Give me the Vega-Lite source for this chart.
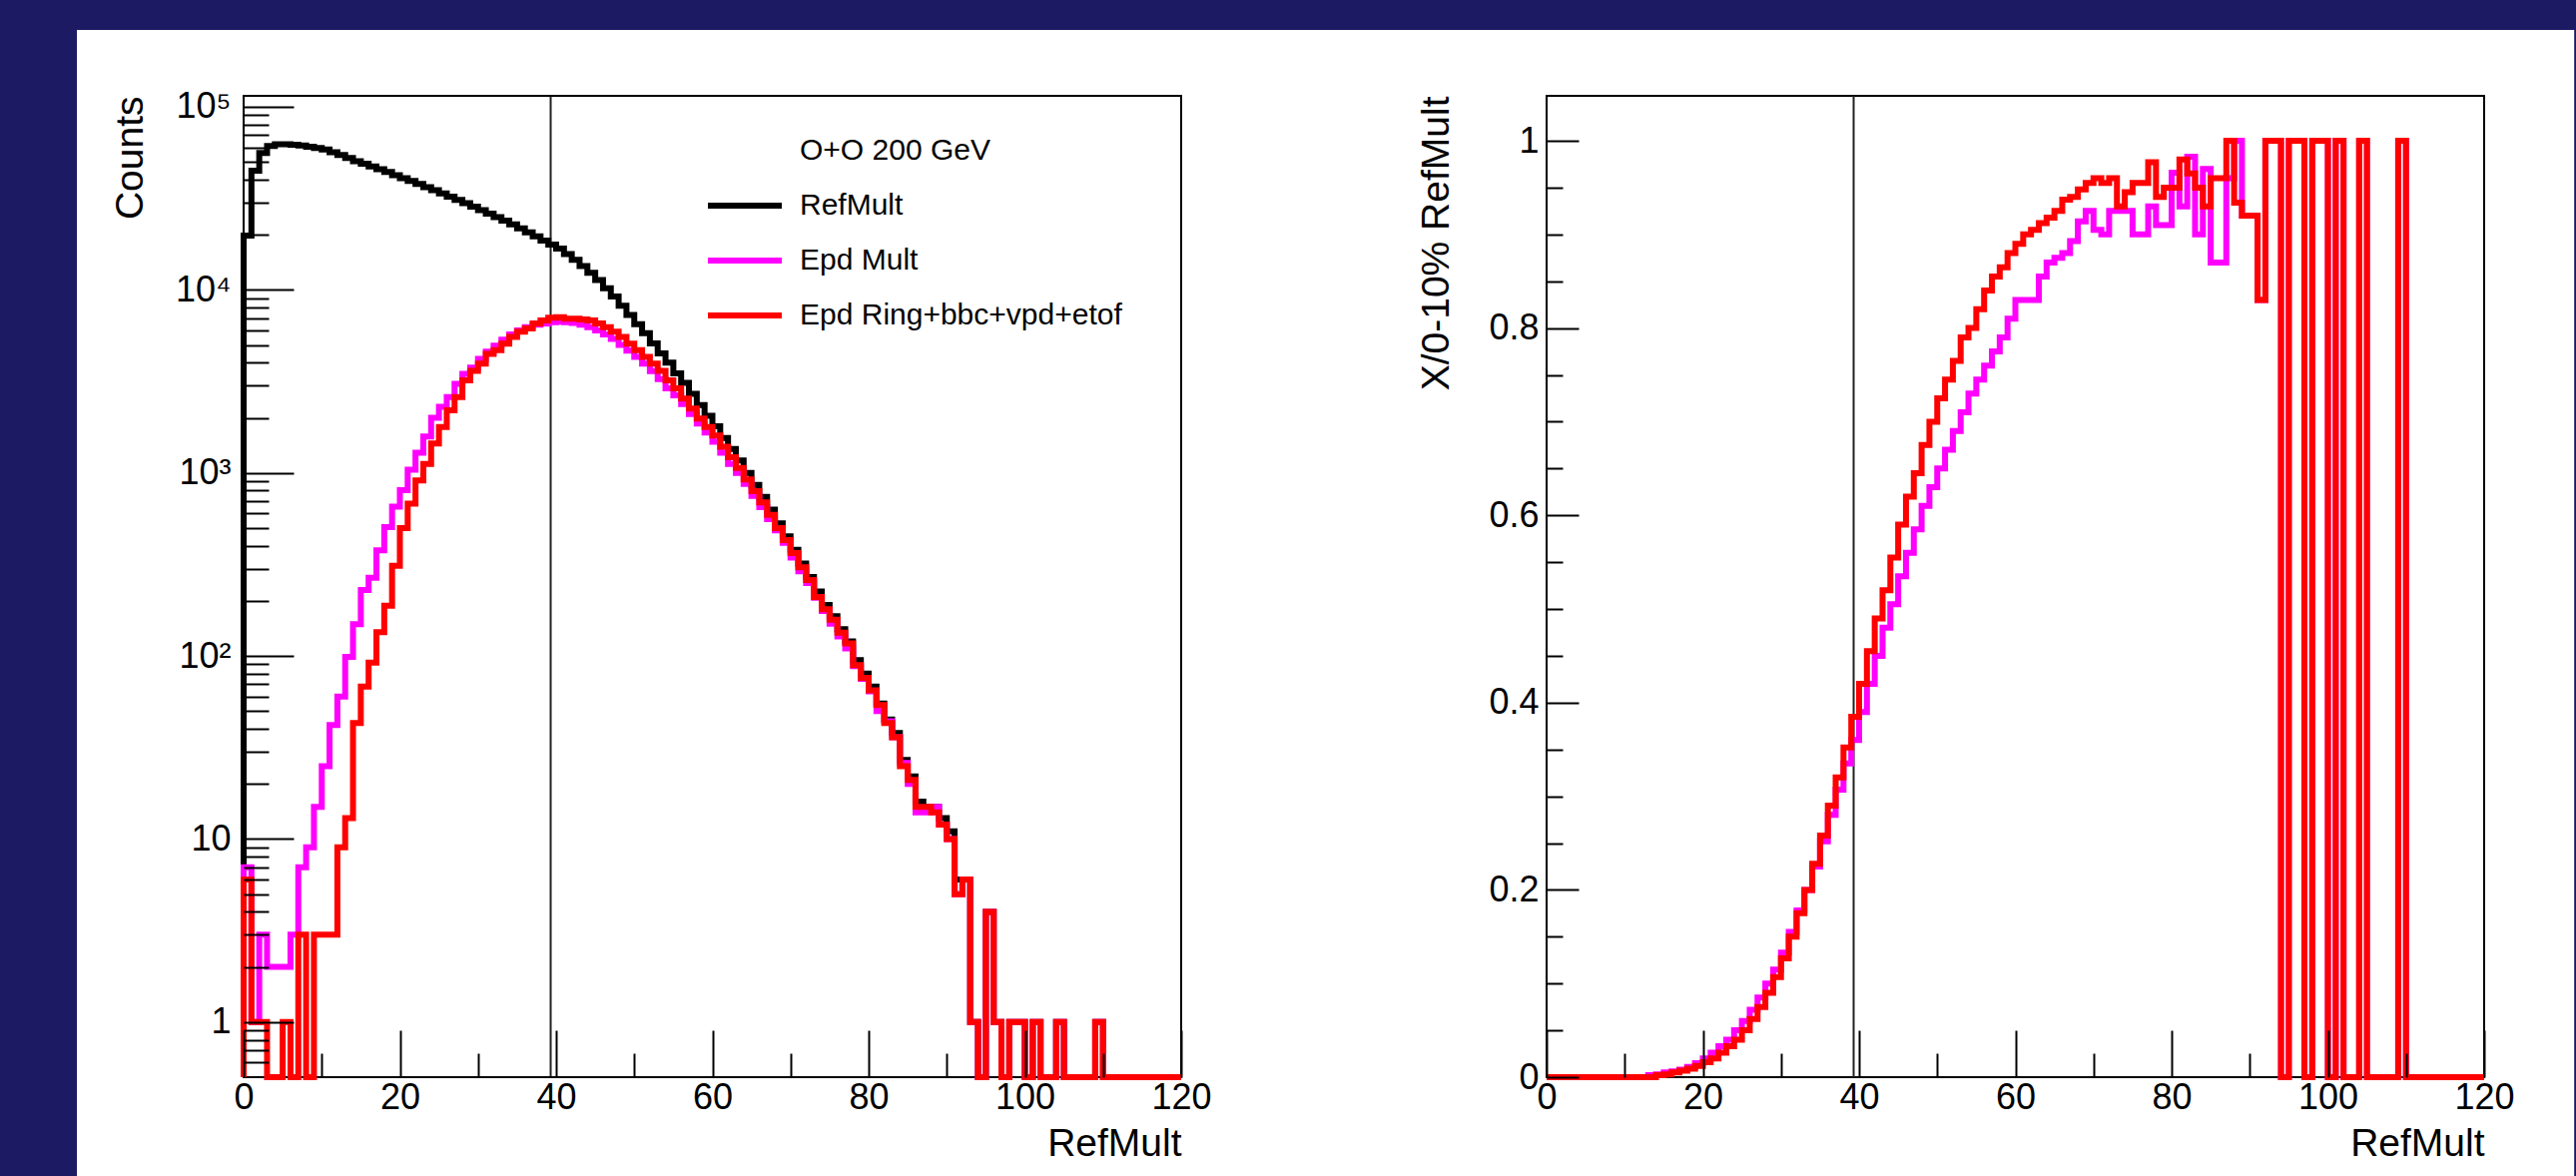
{
  "$schema": "https://vega.github.io/schema/vega-lite/v6.json",
  "background": "#1c1a63",
  "padding": {"left": 76, "top": 29, "right": 3, "bottom": 0},
  "autosize": {"type": "pad"},
  "config": {
    "font": "Liberation Sans",
    "view": {"stroke": "#000000", "strokeWidth": 2},
    "axis": {
      "labelFont": "Liberation Sans", "titleFont": "Liberation Sans",
      "labelFontSize": 36, "titleFontSize": 39, "titleFontWeight": "normal",
      "labelColor": "#000000", "titleColor": "#000000", "tickColor": "#000000",
      "tickWidth": 2, "domain": false, "grid": false,
      "labelOverlap": false, "labelFlush": false, "labelBound": false
    },
    "line": {"strokeWidth": 6, "strokeJoin": "miter", "strokeCap": "butt"},
    "legend": {
      "labelFont": "Liberation Sans", "titleFont": "Liberation Sans",
      "labelFontSize": 30, "titleFontSize": 30, "titleFontWeight": "normal",
      "labelColor": "#000000", "titleColor": "#000000"
    }
  },
  "datasets": {
    "counts": [
      {"bin":0,"RefMult":0,"Epd Mult":0,"Epd Ring+bbc+vpd+etof":0},
      {"bin":0,"RefMult":19800,"Epd Mult":7,"Epd Ring+bbc+vpd+etof":6},
      {"bin":1,"RefMult":44800,"Epd Mult":1,"Epd Ring+bbc+vpd+etof":1},
      {"bin":2,"RefMult":56000,"Epd Mult":3,"Epd Ring+bbc+vpd+etof":1},
      {"bin":3,"RefMult":61000,"Epd Mult":2,"Epd Ring+bbc+vpd+etof":0},
      {"bin":4,"RefMult":62500,"Epd Mult":2,"Epd Ring+bbc+vpd+etof":0},
      {"bin":5,"RefMult":62500,"Epd Mult":2,"Epd Ring+bbc+vpd+etof":1},
      {"bin":6,"RefMult":62000,"Epd Mult":3,"Epd Ring+bbc+vpd+etof":0},
      {"bin":7,"RefMult":61500,"Epd Mult":7,"Epd Ring+bbc+vpd+etof":3},
      {"bin":8,"RefMult":60500,"Epd Mult":9,"Epd Ring+bbc+vpd+etof":0},
      {"bin":9,"RefMult":59500,"Epd Mult":15,"Epd Ring+bbc+vpd+etof":3},
      {"bin":10,"RefMult":58500,"Epd Mult":25,"Epd Ring+bbc+vpd+etof":3},
      {"bin":11,"RefMult":56500,"Epd Mult":42,"Epd Ring+bbc+vpd+etof":3},
      {"bin":12,"RefMult":54500,"Epd Mult":60,"Epd Ring+bbc+vpd+etof":9},
      {"bin":13,"RefMult":52500,"Epd Mult":99,"Epd Ring+bbc+vpd+etof":13},
      {"bin":14,"RefMult":50500,"Epd Mult":149,"Epd Ring+bbc+vpd+etof":43},
      {"bin":15,"RefMult":48800,"Epd Mult":229,"Epd Ring+bbc+vpd+etof":68},
      {"bin":16,"RefMult":47200,"Epd Mult":267,"Epd Ring+bbc+vpd+etof":92},
      {"bin":17,"RefMult":45600,"Epd Mult":378,"Epd Ring+bbc+vpd+etof":135},
      {"bin":18,"RefMult":44000,"Epd Mult":506,"Epd Ring+bbc+vpd+etof":188},
      {"bin":19,"RefMult":42300,"Epd Mult":655,"Epd Ring+bbc+vpd+etof":311},
      {"bin":20,"RefMult":40800,"Epd Mult":804,"Epd Ring+bbc+vpd+etof":500},
      {"bin":21,"RefMult":39300,"Epd Mult":1040,"Epd Ring+bbc+vpd+etof":680},
      {"bin":22,"RefMult":37900,"Epd Mult":1290,"Epd Ring+bbc+vpd+etof":910},
      {"bin":23,"RefMult":36400,"Epd Mult":1580,"Epd Ring+bbc+vpd+etof":1120},
      {"bin":24,"RefMult":35000,"Epd Mult":2000,"Epd Ring+bbc+vpd+etof":1450},
      {"bin":25,"RefMult":33600,"Epd Mult":2300,"Epd Ring+bbc+vpd+etof":1780},
      {"bin":26,"RefMult":32300,"Epd Mult":2600,"Epd Ring+bbc+vpd+etof":2200},
      {"bin":27,"RefMult":31000,"Epd Mult":3070,"Epd Ring+bbc+vpd+etof":2600},
      {"bin":28,"RefMult":29800,"Epd Mult":3480,"Epd Ring+bbc+vpd+etof":3200},
      {"bin":29,"RefMult":28500,"Epd Mult":3760,"Epd Ring+bbc+vpd+etof":3610},
      {"bin":30,"RefMult":27300,"Epd Mult":4200,"Epd Ring+bbc+vpd+etof":3950},
      {"bin":31,"RefMult":26100,"Epd Mult":4600,"Epd Ring+bbc+vpd+etof":4470},
      {"bin":32,"RefMult":25000,"Epd Mult":4950,"Epd Ring+bbc+vpd+etof":4680},
      {"bin":33,"RefMult":23900,"Epd Mult":5350,"Epd Ring+bbc+vpd+etof":5090},
      {"bin":34,"RefMult":22800,"Epd Mult":5700,"Epd Ring+bbc+vpd+etof":5530},
      {"bin":35,"RefMult":21700,"Epd Mult":6000,"Epd Ring+bbc+vpd+etof":5900},
      {"bin":36,"RefMult":20600,"Epd Mult":6250,"Epd Ring+bbc+vpd+etof":6150},
      {"bin":37,"RefMult":19600,"Epd Mult":6450,"Epd Ring+bbc+vpd+etof":6550},
      {"bin":38,"RefMult":18600,"Epd Mult":6550,"Epd Ring+bbc+vpd+etof":6810},
      {"bin":39,"RefMult":17700,"Epd Mult":6650,"Epd Ring+bbc+vpd+etof":7050},
      {"bin":40,"RefMult":16800,"Epd Mult":6700,"Epd Ring+bbc+vpd+etof":7100},
      {"bin":41,"RefMult":15700,"Epd Mult":6650,"Epd Ring+bbc+vpd+etof":6950},
      {"bin":42,"RefMult":14600,"Epd Mult":6600,"Epd Ring+bbc+vpd+etof":6950},
      {"bin":43,"RefMult":13500,"Epd Mult":6450,"Epd Ring+bbc+vpd+etof":6900},
      {"bin":44,"RefMult":12400,"Epd Mult":6250,"Epd Ring+bbc+vpd+etof":6800},
      {"bin":45,"RefMult":11300,"Epd Mult":6000,"Epd Ring+bbc+vpd+etof":6550},
      {"bin":46,"RefMult":10200,"Epd Mult":5700,"Epd Ring+bbc+vpd+etof":6260},
      {"bin":47,"RefMult":9200,"Epd Mult":5400,"Epd Ring+bbc+vpd+etof":5900},
      {"bin":48,"RefMult":8200,"Epd Mult":5000,"Epd Ring+bbc+vpd+etof":5530},
      {"bin":49,"RefMult":7300,"Epd Mult":4650,"Epd Ring+bbc+vpd+etof":5090},
      {"bin":50,"RefMult":6500,"Epd Mult":4300,"Epd Ring+bbc+vpd+etof":4680},
      {"bin":51,"RefMult":5800,"Epd Mult":3950,"Epd Ring+bbc+vpd+etof":4300},
      {"bin":52,"RefMult":5100,"Epd Mult":3600,"Epd Ring+bbc+vpd+etof":3950},
      {"bin":53,"RefMult":4500,"Epd Mult":3250,"Epd Ring+bbc+vpd+etof":3610},
      {"bin":54,"RefMult":4000,"Epd Mult":2900,"Epd Ring+bbc+vpd+etof":3200},
      {"bin":55,"RefMult":3500,"Epd Mult":2650,"Epd Ring+bbc+vpd+etof":2900},
      {"bin":56,"RefMult":3100,"Epd Mult":2380,"Epd Ring+bbc+vpd+etof":2550},
      {"bin":57,"RefMult":2700,"Epd Mult":2100,"Epd Ring+bbc+vpd+etof":2250},
      {"bin":58,"RefMult":2350,"Epd Mult":1860,"Epd Ring+bbc+vpd+etof":1980},
      {"bin":59,"RefMult":2050,"Epd Mult":1660,"Epd Ring+bbc+vpd+etof":1780},
      {"bin":60,"RefMult":1800,"Epd Mult":1480,"Epd Ring+bbc+vpd+etof":1600},
      {"bin":61,"RefMult":1550,"Epd Mult":1290,"Epd Ring+bbc+vpd+etof":1390},
      {"bin":62,"RefMult":1350,"Epd Mult":1120,"Epd Ring+bbc+vpd+etof":1220},
      {"bin":63,"RefMult":1170,"Epd Mult":1000,"Epd Ring+bbc+vpd+etof":1065},
      {"bin":64,"RefMult":1000,"Epd Mult":870,"Epd Ring+bbc+vpd+etof":920},
      {"bin":65,"RefMult":860,"Epd Mult":750,"Epd Ring+bbc+vpd+etof":795},
      {"bin":66,"RefMult":740,"Epd Mult":650,"Epd Ring+bbc+vpd+etof":690},
      {"bin":67,"RefMult":630,"Epd Mult":560,"Epd Ring+bbc+vpd+etof":590},
      {"bin":68,"RefMult":530,"Epd Mult":485,"Epd Ring+bbc+vpd+etof":500},
      {"bin":69,"RefMult":450,"Epd Mult":415,"Epd Ring+bbc+vpd+etof":430},
      {"bin":70,"RefMult":380,"Epd Mult":345,"Epd Ring+bbc+vpd+etof":365},
      {"bin":71,"RefMult":320,"Epd Mult":290,"Epd Ring+bbc+vpd+etof":305},
      {"bin":72,"RefMult":270,"Epd Mult":250,"Epd Ring+bbc+vpd+etof":260},
      {"bin":73,"RefMult":225,"Epd Mult":208,"Epd Ring+bbc+vpd+etof":210},
      {"bin":74,"RefMult":190,"Epd Mult":176,"Epd Ring+bbc+vpd+etof":180},
      {"bin":75,"RefMult":165,"Epd Mult":150,"Epd Ring+bbc+vpd+etof":158},
      {"bin":76,"RefMult":140,"Epd Mult":128,"Epd Ring+bbc+vpd+etof":134},
      {"bin":77,"RefMult":120,"Epd Mult":110,"Epd Ring+bbc+vpd+etof":117},
      {"bin":78,"RefMult":95,"Epd Mult":88,"Epd Ring+bbc+vpd+etof":89},
      {"bin":79,"RefMult":80,"Epd Mult":75,"Epd Ring+bbc+vpd+etof":76},
      {"bin":80,"RefMult":68,"Epd Mult":64,"Epd Ring+bbc+vpd+etof":65},
      {"bin":81,"RefMult":55,"Epd Mult":50,"Epd Ring+bbc+vpd+etof":54},
      {"bin":82,"RefMult":45,"Epd Mult":44,"Epd Ring+bbc+vpd+etof":43},
      {"bin":83,"RefMult":38,"Epd Mult":36,"Epd Ring+bbc+vpd+etof":36},
      {"bin":84,"RefMult":27,"Epd Mult":26,"Epd Ring+bbc+vpd+etof":25},
      {"bin":85,"RefMult":22,"Epd Mult":20,"Epd Ring+bbc+vpd+etof":21},
      {"bin":86,"RefMult":16,"Epd Mult":14,"Epd Ring+bbc+vpd+etof":15},
      {"bin":87,"RefMult":15,"Epd Mult":14,"Epd Ring+bbc+vpd+etof":15},
      {"bin":88,"RefMult":15,"Epd Mult":15,"Epd Ring+bbc+vpd+etof":14},
      {"bin":89,"RefMult":13,"Epd Mult":12,"Epd Ring+bbc+vpd+etof":12},
      {"bin":90,"RefMult":11,"Epd Mult":10,"Epd Ring+bbc+vpd+etof":10},
      {"bin":91,"RefMult":6,"Epd Mult":5,"Epd Ring+bbc+vpd+etof":5},
      {"bin":92,"RefMult":6,"Epd Mult":6,"Epd Ring+bbc+vpd+etof":6},
      {"bin":93,"RefMult":1,"Epd Mult":1,"Epd Ring+bbc+vpd+etof":1},
      {"bin":94,"RefMult":0,"Epd Mult":0,"Epd Ring+bbc+vpd+etof":0},
      {"bin":95,"RefMult":4,"Epd Mult":4,"Epd Ring+bbc+vpd+etof":4},
      {"bin":96,"RefMult":1,"Epd Mult":1,"Epd Ring+bbc+vpd+etof":1},
      {"bin":97,"RefMult":0,"Epd Mult":0,"Epd Ring+bbc+vpd+etof":0},
      {"bin":98,"RefMult":1,"Epd Mult":1,"Epd Ring+bbc+vpd+etof":1},
      {"bin":99,"RefMult":1,"Epd Mult":1,"Epd Ring+bbc+vpd+etof":1},
      {"bin":100,"RefMult":0,"Epd Mult":0,"Epd Ring+bbc+vpd+etof":0},
      {"bin":101,"RefMult":1,"Epd Mult":1,"Epd Ring+bbc+vpd+etof":1},
      {"bin":102,"RefMult":0,"Epd Mult":0,"Epd Ring+bbc+vpd+etof":0},
      {"bin":103,"RefMult":0,"Epd Mult":0,"Epd Ring+bbc+vpd+etof":0},
      {"bin":104,"RefMult":1,"Epd Mult":1,"Epd Ring+bbc+vpd+etof":1},
      {"bin":105,"RefMult":0,"Epd Mult":0,"Epd Ring+bbc+vpd+etof":0},
      {"bin":106,"RefMult":0,"Epd Mult":0,"Epd Ring+bbc+vpd+etof":0},
      {"bin":107,"RefMult":0,"Epd Mult":0,"Epd Ring+bbc+vpd+etof":0},
      {"bin":108,"RefMult":0,"Epd Mult":0,"Epd Ring+bbc+vpd+etof":0},
      {"bin":109,"RefMult":1,"Epd Mult":1,"Epd Ring+bbc+vpd+etof":1},
      {"bin":110,"RefMult":0,"Epd Mult":0,"Epd Ring+bbc+vpd+etof":0},
      {"bin":111,"RefMult":0,"Epd Mult":0,"Epd Ring+bbc+vpd+etof":0},
      {"bin":112,"RefMult":0,"Epd Mult":0,"Epd Ring+bbc+vpd+etof":0},
      {"bin":113,"RefMult":0,"Epd Mult":0,"Epd Ring+bbc+vpd+etof":0},
      {"bin":114,"RefMult":0,"Epd Mult":0,"Epd Ring+bbc+vpd+etof":0},
      {"bin":115,"RefMult":0,"Epd Mult":0,"Epd Ring+bbc+vpd+etof":0},
      {"bin":116,"RefMult":0,"Epd Mult":0,"Epd Ring+bbc+vpd+etof":0},
      {"bin":117,"RefMult":0,"Epd Mult":0,"Epd Ring+bbc+vpd+etof":0},
      {"bin":118,"RefMult":0,"Epd Mult":0,"Epd Ring+bbc+vpd+etof":0},
      {"bin":119,"RefMult":0,"Epd Mult":0,"Epd Ring+bbc+vpd+etof":0},
      {"bin":120,"RefMult":0,"Epd Mult":0,"Epd Ring+bbc+vpd+etof":0}
    ],
    "ratio": [
      {"bin":0,"epd_mult":0,"epd_ring":0},
      {"bin":1,"epd_mult":0,"epd_ring":0},
      {"bin":2,"epd_mult":0,"epd_ring":0},
      {"bin":3,"epd_mult":0,"epd_ring":0},
      {"bin":4,"epd_mult":0,"epd_ring":0},
      {"bin":5,"epd_mult":0,"epd_ring":0},
      {"bin":6,"epd_mult":0,"epd_ring":0},
      {"bin":7,"epd_mult":0,"epd_ring":0},
      {"bin":8,"epd_mult":0,"epd_ring":0},
      {"bin":9,"epd_mult":0,"epd_ring":0},
      {"bin":10,"epd_mult":0,"epd_ring":0},
      {"bin":11,"epd_mult":0,"epd_ring":0},
      {"bin":12,"epd_mult":0,"epd_ring":0},
      {"bin":13,"epd_mult":0.002,"epd_ring":0},
      {"bin":14,"epd_mult":0.003,"epd_ring":0.002},
      {"bin":15,"epd_mult":0.005,"epd_ring":0.003},
      {"bin":16,"epd_mult":0.006,"epd_ring":0.005},
      {"bin":17,"epd_mult":0.008,"epd_ring":0.007},
      {"bin":18,"epd_mult":0.011,"epd_ring":0.009},
      {"bin":19,"epd_mult":0.015,"epd_ring":0.012},
      {"bin":20,"epd_mult":0.02,"epd_ring":0.016},
      {"bin":21,"epd_mult":0.026,"epd_ring":0.02},
      {"bin":22,"epd_mult":0.033,"epd_ring":0.026},
      {"bin":23,"epd_mult":0.04,"epd_ring":0.033},
      {"bin":24,"epd_mult":0.05,"epd_ring":0.04},
      {"bin":25,"epd_mult":0.06,"epd_ring":0.05},
      {"bin":26,"epd_mult":0.072,"epd_ring":0.062},
      {"bin":27,"epd_mult":0.085,"epd_ring":0.075},
      {"bin":28,"epd_mult":0.1,"epd_ring":0.09},
      {"bin":29,"epd_mult":0.115,"epd_ring":0.107},
      {"bin":30,"epd_mult":0.133,"epd_ring":0.127},
      {"bin":31,"epd_mult":0.155,"epd_ring":0.15},
      {"bin":32,"epd_mult":0.178,"epd_ring":0.175},
      {"bin":33,"epd_mult":0.2,"epd_ring":0.2},
      {"bin":34,"epd_mult":0.225,"epd_ring":0.228},
      {"bin":35,"epd_mult":0.252,"epd_ring":0.258},
      {"bin":36,"epd_mult":0.28,"epd_ring":0.29},
      {"bin":37,"epd_mult":0.307,"epd_ring":0.32},
      {"bin":38,"epd_mult":0.335,"epd_ring":0.352},
      {"bin":39,"epd_mult":0.36,"epd_ring":0.385},
      {"bin":40,"epd_mult":0.39,"epd_ring":0.42},
      {"bin":41,"epd_mult":0.42,"epd_ring":0.455},
      {"bin":42,"epd_mult":0.45,"epd_ring":0.49},
      {"bin":43,"epd_mult":0.48,"epd_ring":0.52},
      {"bin":44,"epd_mult":0.505,"epd_ring":0.555},
      {"bin":45,"epd_mult":0.535,"epd_ring":0.59},
      {"bin":46,"epd_mult":0.56,"epd_ring":0.62},
      {"bin":47,"epd_mult":0.585,"epd_ring":0.645},
      {"bin":48,"epd_mult":0.61,"epd_ring":0.675},
      {"bin":49,"epd_mult":0.63,"epd_ring":0.7},
      {"bin":50,"epd_mult":0.65,"epd_ring":0.725},
      {"bin":51,"epd_mult":0.67,"epd_ring":0.745},
      {"bin":52,"epd_mult":0.69,"epd_ring":0.765},
      {"bin":53,"epd_mult":0.71,"epd_ring":0.79},
      {"bin":54,"epd_mult":0.73,"epd_ring":0.8},
      {"bin":55,"epd_mult":0.745,"epd_ring":0.82},
      {"bin":56,"epd_mult":0.76,"epd_ring":0.84},
      {"bin":57,"epd_mult":0.775,"epd_ring":0.855},
      {"bin":58,"epd_mult":0.79,"epd_ring":0.865},
      {"bin":59,"epd_mult":0.81,"epd_ring":0.88},
      {"bin":60,"epd_mult":0.83,"epd_ring":0.89},
      {"bin":61,"epd_mult":0.83,"epd_ring":0.9},
      {"bin":62,"epd_mult":0.83,"epd_ring":0.905},
      {"bin":63,"epd_mult":0.855,"epd_ring":0.912},
      {"bin":64,"epd_mult":0.87,"epd_ring":0.918},
      {"bin":65,"epd_mult":0.875,"epd_ring":0.925},
      {"bin":66,"epd_mult":0.88,"epd_ring":0.937},
      {"bin":67,"epd_mult":0.893,"epd_ring":0.94},
      {"bin":68,"epd_mult":0.914,"epd_ring":0.948},
      {"bin":69,"epd_mult":0.925,"epd_ring":0.955},
      {"bin":70,"epd_mult":0.905,"epd_ring":0.96},
      {"bin":71,"epd_mult":0.9,"epd_ring":0.955},
      {"bin":72,"epd_mult":0.925,"epd_ring":0.96},
      {"bin":73,"epd_mult":0.925,"epd_ring":0.93},
      {"bin":74,"epd_mult":0.925,"epd_ring":0.945},
      {"bin":75,"epd_mult":0.9,"epd_ring":0.955},
      {"bin":76,"epd_mult":0.9,"epd_ring":0.955},
      {"bin":77,"epd_mult":0.93,"epd_ring":0.977},
      {"bin":78,"epd_mult":0.91,"epd_ring":0.94},
      {"bin":79,"epd_mult":0.91,"epd_ring":0.95},
      {"bin":80,"epd_mult":0.966,"epd_ring":0.95},
      {"bin":81,"epd_mult":0.93,"epd_ring":0.98},
      {"bin":82,"epd_mult":0.983,"epd_ring":0.965},
      {"bin":83,"epd_mult":0.9,"epd_ring":0.95},
      {"bin":84,"epd_mult":0.97,"epd_ring":0.93},
      {"bin":85,"epd_mult":0.87,"epd_ring":0.96},
      {"bin":86,"epd_mult":0.87,"epd_ring":0.96},
      {"bin":87,"epd_mult":0.96,"epd_ring":1},
      {"bin":88,"epd_mult":1,"epd_ring":0.934},
      {"bin":89,"epd_mult":0.92,"epd_ring":0.92},
      {"bin":90,"epd_mult":0.92,"epd_ring":0.92},
      {"bin":91,"epd_mult":0.83,"epd_ring":0.83},
      {"bin":92,"epd_mult":1,"epd_ring":1},
      {"bin":93,"epd_mult":1,"epd_ring":1},
      {"bin":94,"epd_mult":0,"epd_ring":0},
      {"bin":95,"epd_mult":1,"epd_ring":1},
      {"bin":96,"epd_mult":1,"epd_ring":1},
      {"bin":97,"epd_mult":0,"epd_ring":0},
      {"bin":98,"epd_mult":1,"epd_ring":1},
      {"bin":99,"epd_mult":1,"epd_ring":1},
      {"bin":100,"epd_mult":0,"epd_ring":0},
      {"bin":101,"epd_mult":1,"epd_ring":1},
      {"bin":102,"epd_mult":0,"epd_ring":0},
      {"bin":103,"epd_mult":0,"epd_ring":0},
      {"bin":104,"epd_mult":1,"epd_ring":1},
      {"bin":105,"epd_mult":0,"epd_ring":0},
      {"bin":106,"epd_mult":0,"epd_ring":0},
      {"bin":107,"epd_mult":0,"epd_ring":0},
      {"bin":108,"epd_mult":0,"epd_ring":0},
      {"bin":109,"epd_mult":1,"epd_ring":1},
      {"bin":110,"epd_mult":0,"epd_ring":0},
      {"bin":111,"epd_mult":0,"epd_ring":0},
      {"bin":112,"epd_mult":0,"epd_ring":0},
      {"bin":113,"epd_mult":0,"epd_ring":0},
      {"bin":114,"epd_mult":0,"epd_ring":0},
      {"bin":115,"epd_mult":0,"epd_ring":0},
      {"bin":116,"epd_mult":0,"epd_ring":0},
      {"bin":117,"epd_mult":0,"epd_ring":0},
      {"bin":118,"epd_mult":0,"epd_ring":0},
      {"bin":119,"epd_mult":0,"epd_ring":0},
      {"bin":120,"epd_mult":0,"epd_ring":0}
    ]
  },
  "bounds": "flush",
  "spacing": 366,
  "hconcat": [
    {
      "width": 939,
      "height": 983,
      "layer": [
        {
          "data": {"values": [{}]},
          "mark": {"type": "rect", "color": "#ffffff", "clip": false},
          "encoding": {
            "x": {
              "datum": -21.34, "type": "quantitative",
              "scale": {"domain": [0, 120], "nice": false, "zero": false},
              "axis": {
                "title": "RefMult", "titleAnchor": "end", "titleAlign": "right", "titlePadding": -14,
                "values": [0,5,10,15,20,25,30,35,40,45,50,55,60,65,70,75,80,85,90,95,100,105,110,115,120],
                "format": "d",
                "labelExpr": "datum.value % 20 === 0 ? datum.label : ''",
                "tickSize": {"expr": "datum.value % 20 === 0 ? -47 : -24"},
                "labelPadding": 50, "zindex": 1
              }
            },
            "x2": {"datum": 298.3},
            "y": {"datum": -0.1017, "type": "quantitative", "scale": {"domain": [0, 1], "nice": false, "zero": false}, "axis": null},
            "y2": {"datum": 1.0671}
          }
        },
        {
          "data": {"name": "counts"},
          "layer": [
            {
              "data": {"values": [{"cut": 39.3}]},
              "mark": {"type": "rule", "color": "#222222", "strokeWidth": 2},
              "encoding": {"x": {"field": "cut", "type": "quantitative"}}
            },
            {
              "data": {"values": [{}]},
              "mark": {"type": "rect", "filled": false, "color": "#000000", "strokeWidth": 2, "clip": false},
              "encoding": {
                "x": {"datum": 0, "type": "quantitative"},
                "x2": {"datum": 120},
                "y": {"datum": 0.5, "type": "quantitative"},
                "y2": {"datum": 114800}
              }
            },
            {
              "transform": [{"fold": ["RefMult", "Epd Mult", "Epd Ring+bbc+vpd+etof"], "as": ["series", "count"]}],
              "mark": {"type": "line", "interpolate": "step-after", "clip": false},
              "encoding": {
                "x": {"field": "bin", "type": "quantitative"},
                "y": {
                  "field": "count", "type": "quantitative",
                  "scale": {"type": "log", "domain": [0.5, 114800], "nice": false, "clamp": true},
                  "axis": {
                    "title": "Counts", "titleAnchor": "end", "titlePadding": 25,
                    "values": [0.6,0.7,0.8,0.9,1,2,3,4,5,6,7,8,9,10,20,30,40,50,60,70,80,90,100,200,300,400,500,600,700,800,900,1000,2000,3000,4000,5000,6000,7000,8000,9000,10000,20000,30000,40000,50000,60000,70000,80000,90000,100000],
                    "labelExpr": "datum.value == 1 ? '1' : datum.value == 10 ? '10' : datum.value == 100 ? '10²' : datum.value == 1000 ? '10³' : datum.value == 10000 ? '10⁴' : datum.value == 100000 ? '10⁵' : ''",
                    "tickSize": {"expr": "indexof([1, 10, 100, 1000, 10000, 100000], datum.value) >= 0 ? -50 : -25"},
                    "labelPadding": 63, "zindex": 1
                  }
                },
                "color": {
                  "field": "series", "type": "nominal",
                  "scale": {"domain": ["O+O 200 GeV", "RefMult", "Epd Mult", "Epd Ring+bbc+vpd+etof"], "range": ["rgba(0,0,0,0)", "#000000", "#ff00ff", "#ff0000"]},
                  "legend": {
                    "title": null, "orient": "none", "legendX": 462, "legendY": 15,
                    "symbolType": "stroke", "symbolStrokeWidth": 6, "symbolSize": 5476,
                    "rowPadding": 0, "labelOffset": 15, "labelLimit": 0
                  }
                }
              }
            }
          ]
        }
      ],
      "resolve": {"scale": {"y": "independent"}, "axis": {"y": "independent"}}
    },
    {
      "width": 939,
      "height": 983,
      "data": {"name": "ratio"},
      "layer": [
        {
          "data": {"values": [{"cut": 39.3}]},
          "mark": {"type": "rule", "color": "#222222", "strokeWidth": 2},
          "encoding": {"x": {"field": "cut", "type": "quantitative", "scale": {"domain": [0, 120], "nice": false, "zero": false}}}
        },
        {
          "mark": {"type": "line", "interpolate": "step-after", "clip": false, "color": "#ff00ff"},
          "encoding": {
            "x": {
              "field": "bin", "type": "quantitative",
              "axis": {
                "title": "RefMult", "titleAnchor": "end", "titleAlign": "right", "titlePadding": -14,
                "values": [0,5,10,15,20,25,30,35,40,45,50,55,60,65,70,75,80,85,90,95,100,105,110,115,120],
                "format": "d",
                "labelExpr": "datum.value % 20 === 0 ? datum.label : ''",
                "tickSize": {"expr": "datum.value % 20 === 0 ? -47 : -24"},
                "labelPadding": 50, "zindex": 1
              }
            },
            "y": {
              "field": "epd_mult", "type": "quantitative",
              "scale": {"domain": [0, 1.048], "nice": false, "zero": false},
              "axis": {
                "title": "X/0-10% RefMult", "titleAnchor": "end", "titlePadding": 32,
                "values": [0,0.05,0.1,0.15,0.2,0.25,0.3,0.35,0.4,0.45,0.5,0.55,0.6,0.65,0.7,0.75,0.8,0.85,0.9,0.95,1],
                "format": "~g",
                "labelExpr": "indexof([0, 0.2, 0.4, 0.6, 0.8, 1], datum.value) >= 0 ? datum.label : ''",
                "tickSize": {"expr": "indexof([0, 0.2, 0.4, 0.6, 0.8, 1], datum.value) >= 0 ? -32 : -16"},
                "labelPadding": 40, "zindex": 1
              }
            }
          }
        },
        {
          "mark": {"type": "line", "interpolate": "step-after", "clip": false, "color": "#ff0000"},
          "encoding": {
            "x": {"field": "bin", "type": "quantitative"},
            "y": {"field": "epd_ring", "type": "quantitative"}
          }
        }
      ]
    }
  ]
}
